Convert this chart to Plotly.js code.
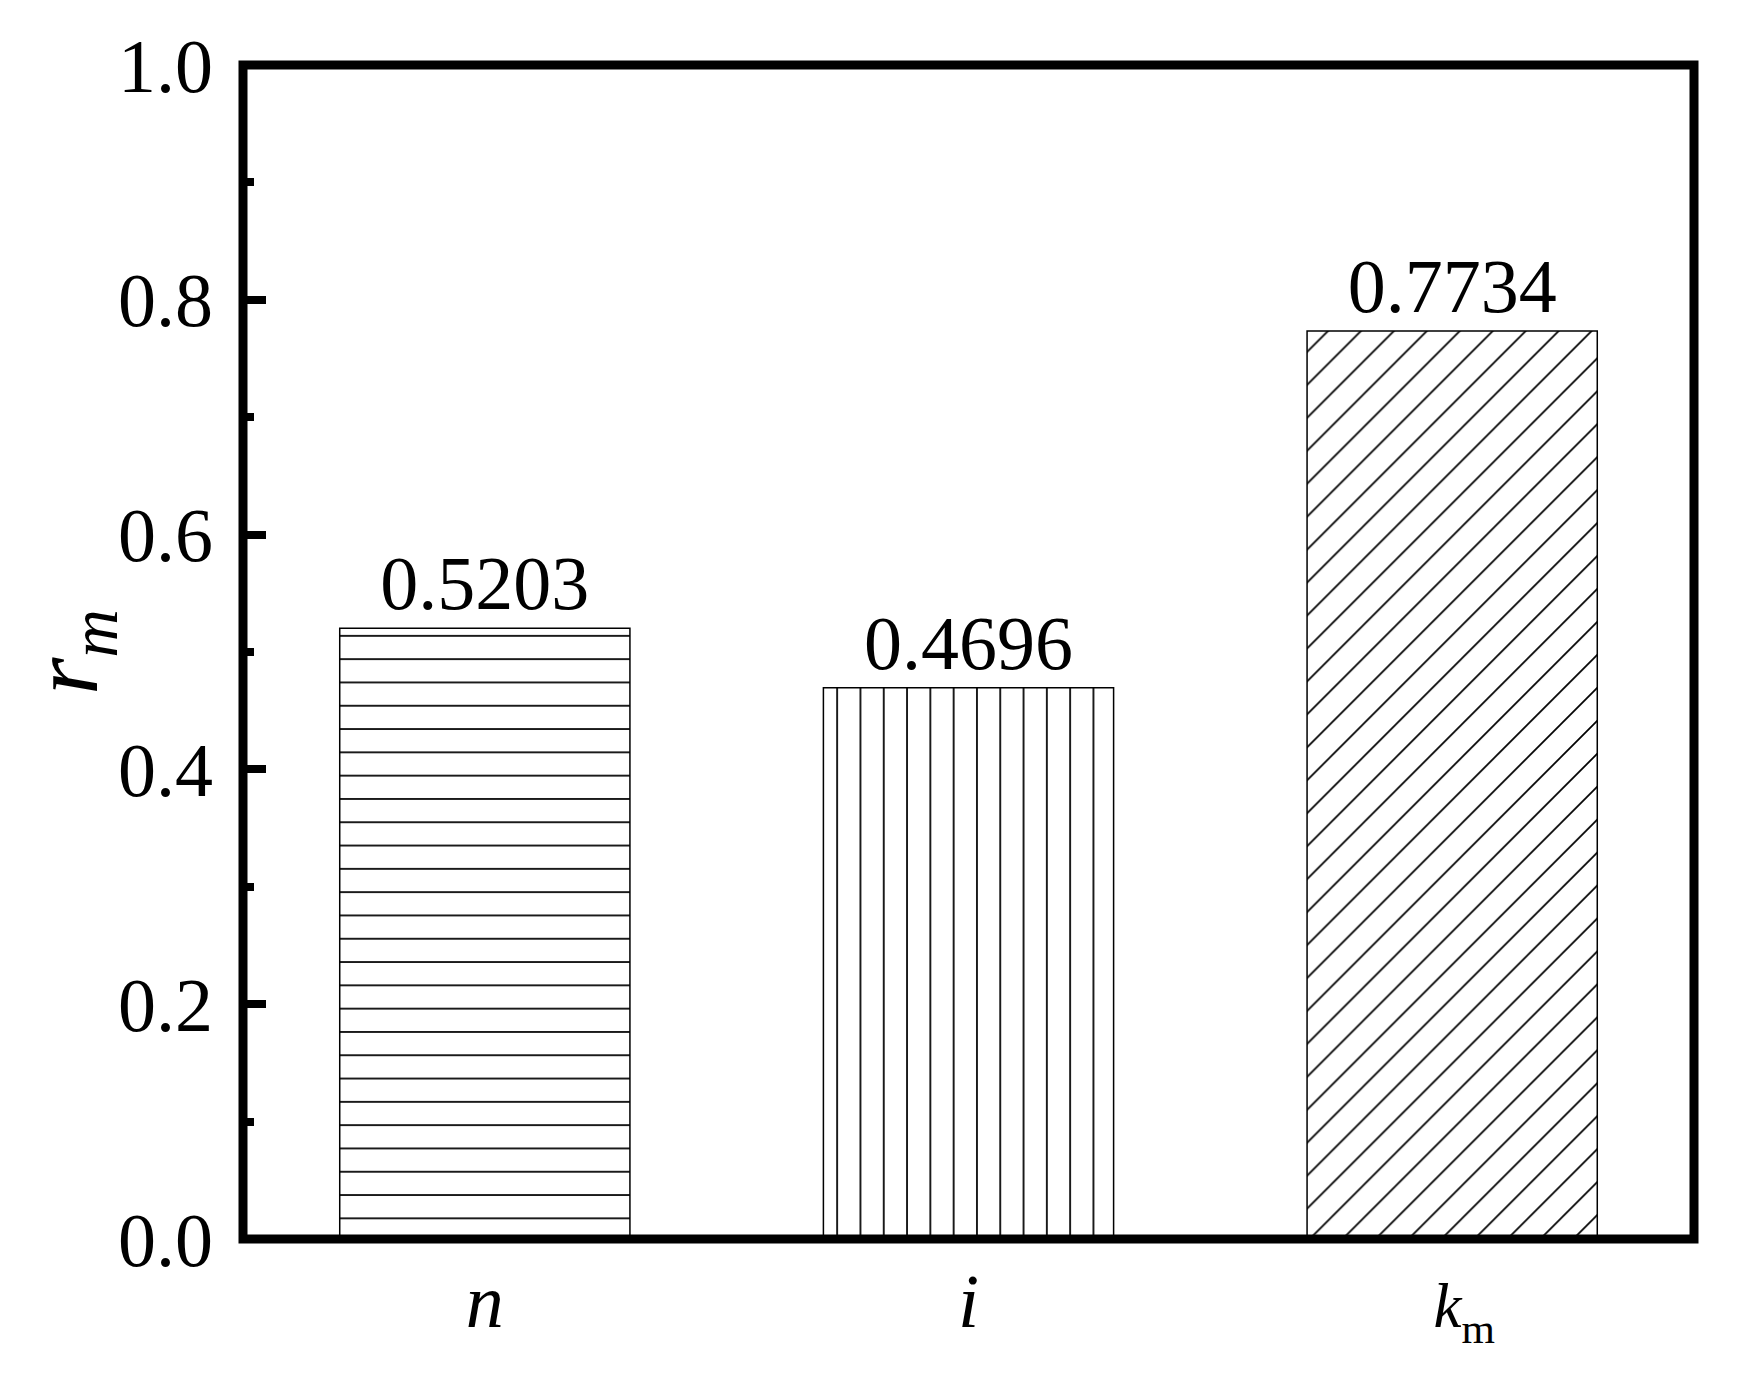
<!DOCTYPE html>
<html>
<head>
<meta charset="utf-8">
<script src="https://cdn.plot.ly/plotly-3.0.1.min.js"></script>
<style>
  html, body { margin: 0; padding: 0; background: #ffffff; }
  #chart { width: 1740px; height: 1388px; }
</style>
</head>
<body>
<div id="chart"></div>
<script>
// ---- data ----
var categories = ['n', 'i', 'km'];
var tickLabels = [
  '<i>n</i>',
  '<i>i</i>',
  '<span style="font-size:96px">&nbsp;</span><span style="font-size:63px"><i>k</i></span><sub><span style="font-size:43px">m</span></sub>'
];
var values = [0.5203, 0.4696, 0.7734];
var valueLabels = ['0.5203', '0.4696', '0.7734'];
var patternShapes = ['-', '|', '/'];
var yTickVals = [0.0, 0.2, 0.4, 0.6, 0.8, 1.0];
var yTickText = ['0.0', '0.2', '0.4', '0.6', '0.8', '1.0'];
var yTitle = '<i>r</i><sub><i>m</i></sub>';

var serif = 'Liberation Serif, Times New Roman, Times, serif';

var trace = {
  type: 'bar',
  x: categories,
  y: values,
  width: 0.6,
  text: valueLabels,
  textposition: 'outside',
  cliponaxis: false,
  textfont: { family: serif, size: 76, color: '#000000' },
  marker: {
    color: '#ffffff',
    line: { color: '#000000', width: 1.5 },
    pattern: {
      shape: patternShapes,
      size: 23.3,
      solidity: 0.075,
      fgcolor: '#000000',
      bgcolor: '#ffffff',
      fillmode: 'replace'
    }
  },
  hoverinfo: 'skip',
  showlegend: false
};

var layout = {
  width: 1740,
  height: 1388,
  paper_bgcolor: '#ffffff',
  plot_bgcolor: '#ffffff',
  margin: { l: 243, r: 46, t: 65, b: 149, pad: 0 },
  font: { family: serif, color: '#000000', size: 76 },
  showlegend: false,
  xaxis: {
    type: 'category',
    range: [-0.5, 2.5],
    tickvals: categories,
    ticktext: tickLabels,
    ticks: '',
    tickfont: { family: serif, size: 76, color: '#000000' },
    showline: false,
    showgrid: false,
    zeroline: false,
    ticklabelstandoff: 11,
    automargin: false
  },
  yaxis: {
    range: [0, 1],
    tickvals: yTickVals,
    ticktext: yTickText,
    ticks: 'inside',
    ticklen: 23,
    tickwidth: 8,
    tickcolor: '#000000',
    tickfont: { family: serif, size: 76, color: '#000000' },
    minor: { ticks: 'inside', ticklen: 11, tickwidth: 8, tickcolor: '#000000', dtick: 0.1, showgrid: false },
    showline: false,
    showgrid: false,
    zeroline: false,
    automargin: false,
    ticklabelstandoff: 29
  },
  annotations: [{
    text: yTitle,
    textangle: -90,
    xref: 'paper', yref: 'paper',
    x: -0.1185, y: 0.5,
    xanchor: 'center', yanchor: 'middle',
    showarrow: false,
    font: { family: serif, size: 96, color: '#000000' }
  }],
  shapes: [{
    type: 'rect',
    xref: 'paper', yref: 'paper',
    x0: 0, x1: 1, y0: 0, y1: 1,
    line: { color: '#000000', width: 9 },
    fillcolor: 'rgba(0,0,0,0)',
    layer: 'above'
  }]
};

Plotly.newPlot('chart', [trace], layout, { displayModeBar: false, staticPlot: true });
</script>
</body>
</html>
